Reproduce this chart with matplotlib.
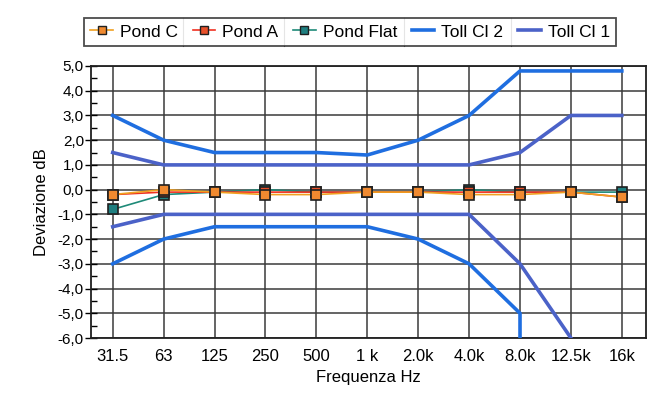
import numpy as np
import matplotlib.pyplot as plt
from matplotlib.ticker import MultipleLocator, FuncFormatter
from matplotlib.lines import Line2D

plt.rcParams['font.family'] = ['Liberation Sans', 'DejaVu Sans']

freqs = ['31.5', '63', '125', '250', '500', '1 k', '2.0k', '4.0k', '8.0k', '12.5k', '16k']

pond_c = [-0.2, 0.0, -0.1, -0.2, -0.2, -0.1, -0.1, -0.2, -0.2, -0.1, -0.3]
pond_a = [-0.2, -0.1, -0.1, -0.1, -0.1, -0.1, -0.1, -0.1, -0.1, -0.1, -0.3]
pond_flat = [-0.8, -0.2, -0.1, 0.0, -0.1, -0.1, -0.1, 0.0, -0.1, -0.1, -0.1]

# tolleranze classe 2 (il limite inferiore a 8k scende fuori scala)
cl2_up = [3.0, 2.0, 1.5, 1.5, 1.5, 1.4, 2.0, 3.0, 4.8, 4.8, 4.8]
cl2_lo_idx = [0, 1, 2, 3, 4, 5, 6, 7, 8, 8]
cl2_lo = [-3.0, -2.0, -1.5, -1.5, -1.5, -1.5, -2.0, -3.0, -5.0, -6.5]

# tolleranze classe 1
cl1_up = [1.5, 1.0, 1.0, 1.0, 1.0, 1.0, 1.0, 1.0, 1.5, 3.0, 3.0]
cl1_lo_idx = [0, 1, 2, 3, 4, 5, 6, 7, 8, 9]
cl1_lo = [-1.5, -1.0, -1.0, -1.0, -1.0, -1.0, -1.0, -1.0, -3.0, -6.0]

x = np.arange(len(freqs))

fig = plt.figure(figsize=(6.63, 4.0), dpi=100)
ax = fig.add_axes([0.137, 0.155, 0.837, 0.68])

c_cl2 = '#1f6ee0'
c_cl1 = '#4b62c8'
ax.plot(x, cl2_up, color=c_cl2, lw=2.6, solid_joinstyle='round', zorder=3)
ax.plot(cl2_lo_idx, cl2_lo, color=c_cl2, lw=2.6, solid_joinstyle='round', zorder=3)
ax.plot(x, cl1_up, color=c_cl1, lw=2.6, solid_joinstyle='round', zorder=3)
ax.plot(cl1_lo_idx, cl1_lo, color=c_cl1, lw=2.6, solid_joinstyle='round', zorder=3)

ax.plot(x, pond_flat, color='#1e8a78', lw=1.2, marker='s', ms=6.5,
        mfc='#1f7f80', mec='#202020', mew=1.2, zorder=4)
ax.plot(x, pond_a, color='#f03020', lw=1.2, marker='s', ms=6.5,
        mfc='#e8502a', mec='#202020', mew=1.2, zorder=5)
ax.plot(x, pond_c, color='#f0a020', lw=1.2, marker='s', ms=6.5,
        mfc='#f08a30', mec='#202020', mew=1.2, zorder=6)

ax.set_xlim(-0.43, 10.47)
ax.set_ylim(-6.0, 5.0)
ax.set_xticks(x)
ax.set_xticklabels(freqs, fontsize=12)
ax.yaxis.set_major_locator(MultipleLocator(1.0))
ax.yaxis.set_minor_locator(MultipleLocator(0.5))
ax.yaxis.set_major_formatter(FuncFormatter(lambda v, p: ('%.1f' % v).replace('.', ',')))
ax.tick_params(axis='y', which='major', direction='inout', length=8, width=1, labelsize=11, pad=1)
ax.tick_params(axis='y', which='minor', direction='in', length=4, width=1)
ax.tick_params(axis='x', length=0, pad=8)
ax.grid(True, which='major', color='#3a3a3a', lw=1.1)
ax.set_axisbelow(True)
for s in ax.spines.values():
    s.set_color('#202020')
    s.set_linewidth(1.3)

ax.set_xlabel('Frequenza Hz', fontsize=12, labelpad=4)
ax.set_ylabel('Deviazione dB', fontsize=12, labelpad=6)

handles = [
    Line2D([], [], color='#f0a020', lw=1.2, marker='s', ms=6, mfc='#f08a30', mec='#202020'),
    Line2D([], [], color='#f03020', lw=1.2, marker='s', ms=6, mfc='#e8502a', mec='#202020'),
    Line2D([], [], color='#1e8a78', lw=1.2, marker='s', ms=6, mfc='#1f7f80', mec='#202020'),
    Line2D([], [], color=c_cl2, lw=2.6),
    Line2D([], [], color=c_cl1, lw=2.6),
]
labels = ['Pond C', 'Pond A', 'Pond Flat', 'Toll Cl 2', 'Toll Cl 1']
leg = fig.legend(handles, labels, ncol=5, loc='center', bbox_to_anchor=(0.528, 0.92),
                 fontsize=12.5, frameon=True, fancybox=False, edgecolor='#202020',
                 handlelength=1.3, handletextpad=0.4, columnspacing=0.85,
                 borderpad=0.35, borderaxespad=0)
leg.get_frame().set_linewidth(1.3)

# separatori verticali tra le voci della legenda
fig.canvas.draw()
r = fig.canvas.get_renderer()
bb = leg.get_window_extent(r)
texts = leg.get_texts()
lines = leg.legend_handles
for i in range(1, len(texts)):
    t_end = texts[i - 1].get_window_extent(r).x1
    h_start = lines[i].get_window_extent(r).x0
    xs = (t_end + h_start) / 2 / fig.bbox.width
    fig.add_artist(Line2D([xs, xs], [bb.y0 / fig.bbox.height, bb.y1 / fig.bbox.height],
                          color='#808080', lw=0.8))

fig.savefig('out.png', dpi=100)
